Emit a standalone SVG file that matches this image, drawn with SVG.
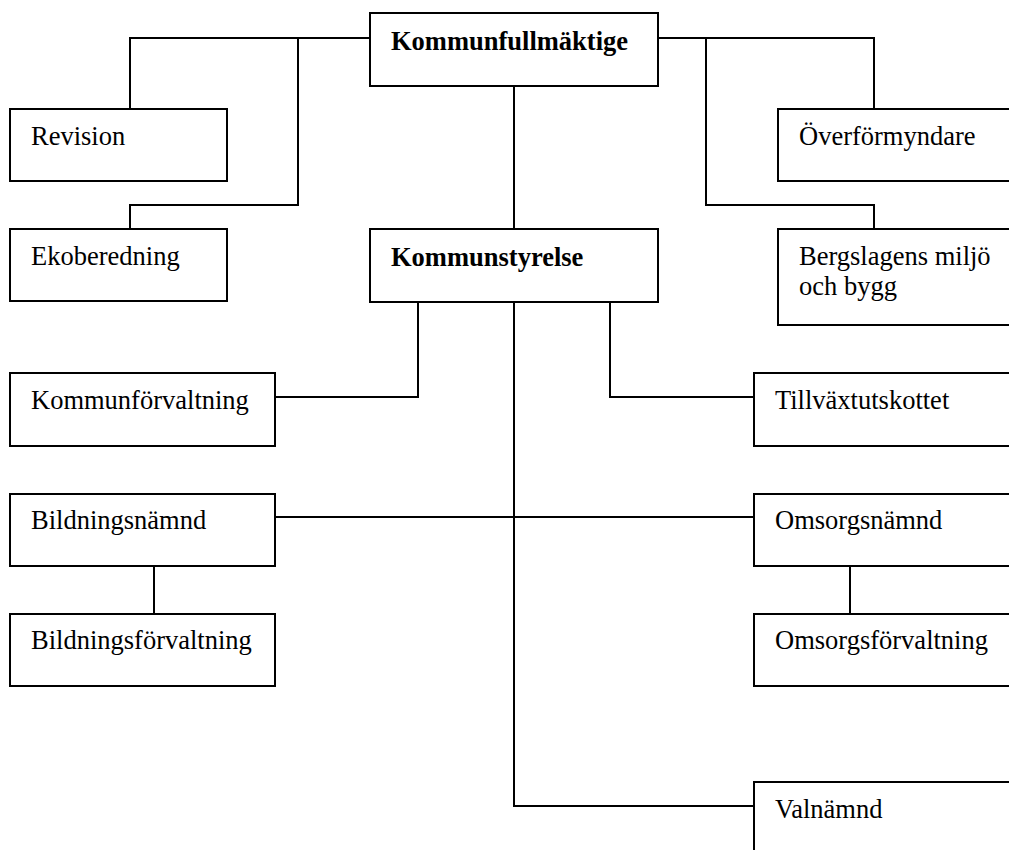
<svg xmlns="http://www.w3.org/2000/svg" width="1009" height="850" viewBox="0 0 1009 850">
<style>
.box{fill:#fff;stroke:#000;stroke-width:2}
.ln{fill:none;stroke:#000;stroke-width:2}
text{font-family:"Liberation Serif","Times New Roman",serif;font-size:26.5px;fill:#000}
.b{font-weight:bold}
</style>
<rect width="1009" height="850" fill="#fff"/>
<g id="connectors">
<path class="ln" d="M130,109 V38 H370"/>
<path class="ln" d="M298,38 V205 H130 V229"/>
<path class="ln" d="M658,38 H874 V109"/>
<path class="ln" d="M706,38 V205 H874 V229"/>
<path class="ln" d="M514,86 V229"/>
<path class="ln" d="M514,302 V806 H754"/>
<path class="ln" d="M418,302 V397 H275"/>
<path class="ln" d="M610,302 V397 H754"/>
<path class="ln" d="M275,517 H754"/>
<path class="ln" d="M154,566 V614"/>
<path class="ln" d="M850,566 V614"/>
</g>
<g id="kommunfullmaktige"><rect class="box" x="370" y="13" width="288" height="73"/><text class="b" x="391" y="50">Kommunfullmäktige</text></g>
<g id="kommunstyrelse"><rect class="box" x="370" y="229" width="288" height="73"/><text class="b" x="391" y="266">Kommunstyrelse</text></g>
<g id="revision"><rect class="box" x="10" y="109" width="217" height="72"/><text x="31" y="145">Revision</text></g>
<g id="ekoberedning"><rect class="box" x="10" y="229" width="217" height="72"/><text x="31" y="265">Ekoberedning</text></g>
<g id="overformyndare"><rect class="box" x="778" y="109" width="250" height="72"/><text x="799" y="145">Överförmyndare</text></g>
<g id="bergslagens"><rect class="box" x="778" y="229" width="250" height="96"/><text x="799" y="265">Bergslagens miljö</text><text x="799" y="295">och bygg</text></g>
<g id="kommunforvaltning"><rect class="box" x="10" y="373" width="265" height="73"/><text x="31" y="409">Kommunförvaltning</text></g>
<g id="tillvaxtutskottet"><rect class="box" x="754" y="373" width="280" height="73"/><text x="775" y="409">Tillväxtutskottet</text></g>
<g id="bildningsnamnd"><rect class="box" x="10" y="494" width="265" height="72"/><text x="31" y="529">Bildningsnämnd</text></g>
<g id="omsorgsnamnd"><rect class="box" x="754" y="494" width="280" height="72"/><text x="775" y="529">Omsorgsnämnd</text></g>
<g id="bildningsforvaltning"><rect class="box" x="10" y="614" width="265" height="72"/><text x="31" y="649">Bildningsförvaltning</text></g>
<g id="omsorgsforvaltning"><rect class="box" x="754" y="614" width="280" height="72"/><text x="775" y="649">Omsorgsförvaltning</text></g>
<g id="valnamnd"><rect class="box" x="754" y="782" width="280" height="100"/><text x="775" y="818">Valnämnd</text></g>
</svg>
